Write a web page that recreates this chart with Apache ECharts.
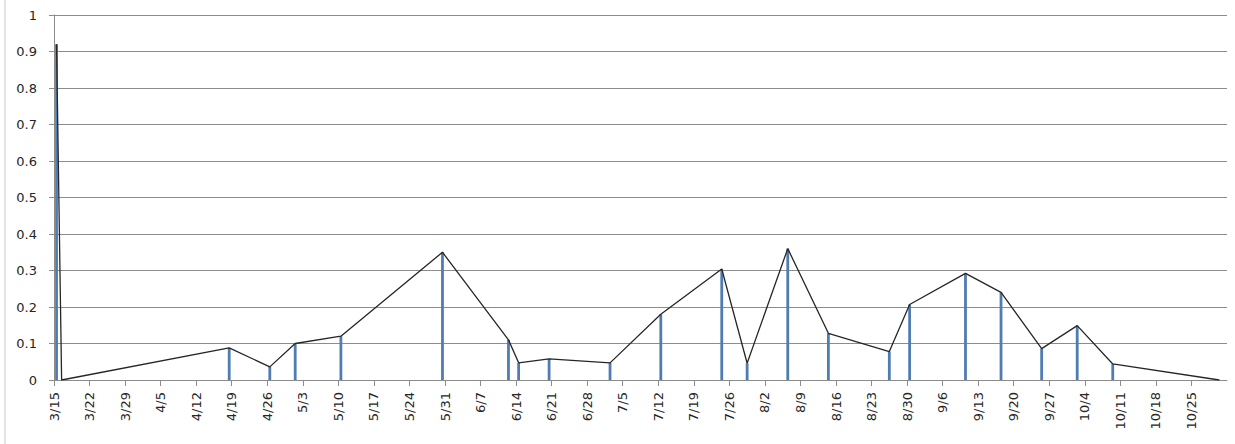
<!DOCTYPE html>
<html lang="en">
<head>
	<meta charset="UTF-8">
	<title>echarts</title>
	<script src="https://cdn.jsdelivr.net/npm/echarts@6/dist/echarts.min.js"></script>
	<style>
		html, body { margin: 0; padding: 0; background: #fff; }
		#main { width: 1235px; height: 444px; }
	</style>
</head>
<body>
	<div id="main"></div>
	<script type="text/javascript">
		// dates (month/day) and values
		var startDate = '3/15';
		var dates = ['3/15', '3/16', '4/18', '4/26', '5/1', '5/10', '5/30', '6/12', '6/14', '6/20', '7/2', '7/12',
			'7/24', '7/29', '8/6', '8/14', '8/26', '8/30', '9/10', '9/17', '9/25', '10/2', '10/9', '10/30'];
		var values = [0.92, 0, 0.088, 0.036, 0.10, 0.12, 0.35, 0.11, 0.047, 0.058, 0.047, 0.18,
			0.304, 0.046, 0.36, 0.128, 0.078, 0.207, 0.292, 0.24, 0.086, 0.149, 0.044, 0];
		var yTicks = [0, 1, 0.1]; // min, max, step
		var endDate = '11/1';

		var year = 2015;
		function toDay(md) {
			var p = md.split('/');
			var s = startDate.split('/');
			return (Date.UTC(year, p[0] - 1, +p[1]) - Date.UTC(year, s[0] - 1, +s[1])) / 86400000;
		}
		function dayLabel(v) {
			var s = startDate.split('/');
			var d = new Date(Date.UTC(year, s[0] - 1, +s[1]) + v * 86400000);
			return (d.getUTCMonth() + 1) + '/' + d.getUTCDate();
		}

		// points sit in the middle of their day slot, like excel's date axis
		var points = dates.map(function (md, i) {
			return [toDay(md) + 0.5, values[i]];
		});

		// svg renderer: rotated axis labels come out right with it
		var myChart = echarts.init(document.getElementById('main'), null, { renderer: 'svg' });

		var font = 'DejaVu Sans';
		var lastDay = toDay(endDate);
		option = {
			backgroundColor: '#fff',
			animation: false,
			grid: { left: 54, right: 8, top: 15, bottom: 64 },
			graphic: [{
				type: 'line',
				shape: { x1: 5, y1: 0, x2: 5, y2: 444 },
				style: { stroke: '#c8c8c8', lineWidth: 1 }
			}],
			xAxis: {
				type: 'value',
				min: 0,
				max: lastDay,
				interval: 7,
				axisLine: { show: true, lineStyle: { color: '#8c8c8c', width: 1 } },
				axisTick: { show: true, length: 6, lineStyle: { color: '#8c8c8c' } },
				splitLine: { show: false },
				axisLabel: {
					rotate: 90,
					margin: 12,
					padding: [8, 0, 0, 0],
					showMaxLabel: false,
					fontFamily: font,
					fontSize: 13,
					color: '#262626',
					formatter: function (v) {
						return v >= lastDay ? '' : dayLabel(v);
					}
				}
			},
			yAxis: {
				type: 'value',
				min: yTicks[0],
				max: yTicks[1],
				interval: yTicks[2],
				axisLine: { show: true, lineStyle: { color: '#8c8c8c', width: 1 } },
				axisTick: { show: true, length: 5, lineStyle: { color: '#8c8c8c' } },
				splitLine: { show: true, lineStyle: { color: '#8c8c8c', width: 1 } },
				axisLabel: {
					margin: 17,
					fontFamily: font,
					fontSize: 13,
					color: '#262626'
				}
			},
			series: [{
				type: 'bar',
				data: points,
				barWidth: 2.8,
				itemStyle: { color: '#4f7db2' },
				z: 2
			}, {
				type: 'line',
				data: points,
				showSymbol: false,
				symbol: 'none',
				lineStyle: { color: '#262626', width: 1.3 },
				z: 3
			}]
		};

		myChart.setOption(option);
	</script>
</body>
</html>
